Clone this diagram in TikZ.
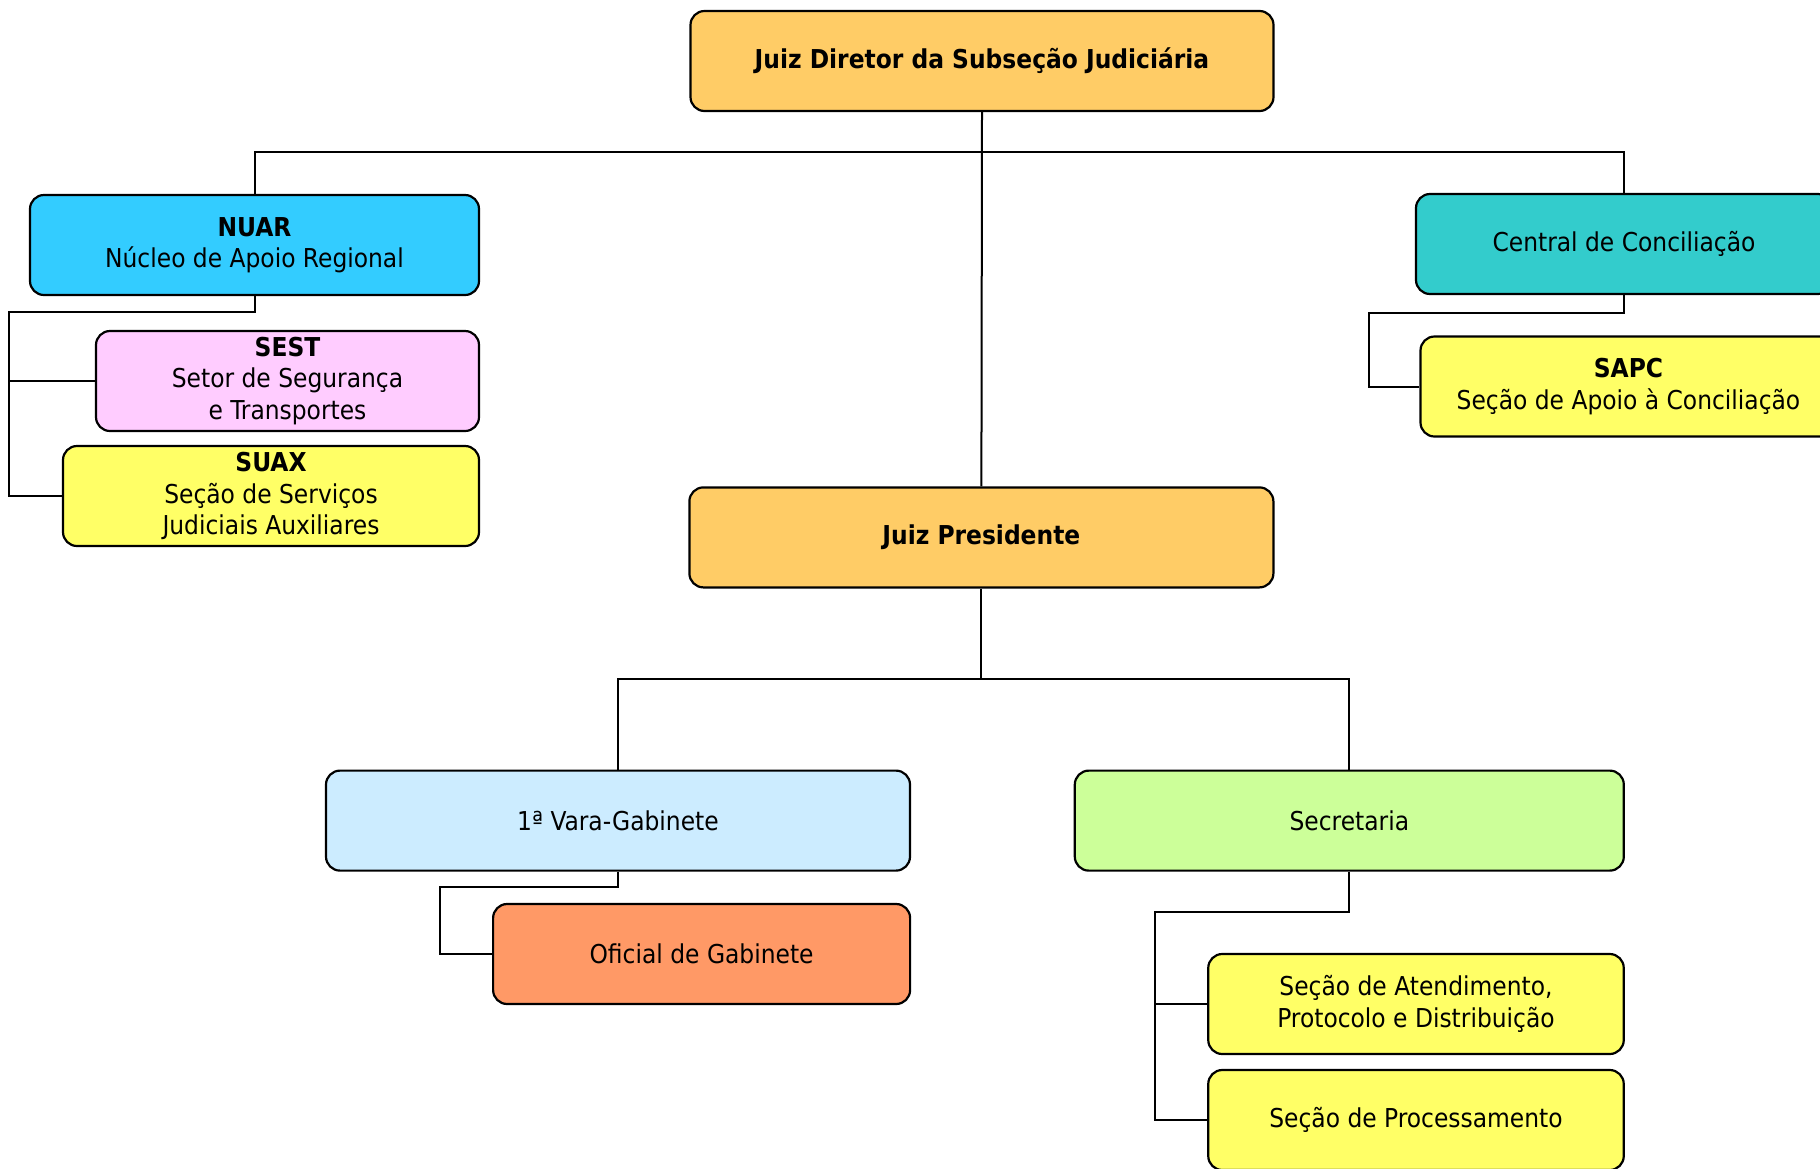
\documentclass[tikz,border=0pt]{standalone}
\usepackage{fontspec}
\setmainfont{DejaVu Sans Condensed}
\definecolor{laranja}{HTML}{FFCC66}
\definecolor{azul}{HTML}{33CCFF}
\definecolor{turquesa}{HTML}{33CCCC}
\definecolor{rosa}{HTML}{FFCCFF}
\definecolor{amarelo}{HTML}{FFFF66}
\definecolor{celeste}{HTML}{CCECFF}
\definecolor{verde}{HTML}{CCFF99}
\definecolor{salmao}{HTML}{FF9966}
\begin{document}
\begin{tikzpicture}[x=0.5pt,y=-0.5pt,
  caixa/.style={draw,line width=1.1pt,rounded corners=7pt,minimum height=50pt,
    align=center,inner sep=2pt,font=\fontsize{13}{15.7}\selectfont},
  liga/.style={draw,line width=1pt}]
  \useasboundingbox (0,0) rectangle (1820,1168);
  % nivel superior
  \node[caixa,fill=laranja,minimum width=291.5pt] (dir) at (982,61) {\bfseries Juiz Diretor da Subseção Judiciária};
  \node[caixa,fill=azul,minimum width=224.5pt] (nuar) at (254.5,245) {{\bfseries NUAR}\\Núcleo de Apoio Regional};
  \node[caixa,fill=turquesa,minimum width=208pt] (conc) at (1624,244) {Central de Conciliação};
  \node[caixa,fill=rosa,minimum width=191.5pt] (sest) at (287.5,381) {{\bfseries SEST}\\Setor de Segurança\\e Transportes};
  \node[caixa,fill=amarelo,minimum width=208pt] (suax) at (271,496) {{\bfseries SUAX}\\Seção de Serviços\\Judiciais Auxiliares};
  \node[caixa,fill=amarelo,minimum width=208pt] (sapc) at (1628.5,386.5) {{\bfseries SAPC}\\Seção de Apoio à Conciliação};
  % vara
  \node[caixa,fill=laranja,minimum width=292pt] (pres) at (981.4,537.4) {\bfseries Juiz Presidente};
  \node[caixa,fill=celeste,minimum width=292pt] (vara) at (618,820.6) {1ª Vara-Gabinete};
  \node[caixa,fill=verde,minimum width=274.5pt] (secr) at (1349.3,820.6) {Secretaria};
  \node[caixa,fill=salmao,minimum width=208.5pt] (ofic) at (701.6,954) {Oficial de Gabinete};
  \node[caixa,fill=amarelo,minimum width=207.75pt] (atend) at (1416,1004) {Seção de Atendimento,\\Protocolo e Distribuição};
  \node[caixa,fill=amarelo,minimum width=207.75pt] (proc) at (1416,1120) {Seção de Processamento};
  % ligacoes
  \coordinate (topbus) at (982,152);
  \coordinate (nuarbus) at (9,312);
  \coordinate (concbus) at (1368.5,313);
  \coordinate (presbus) at (981.4,679);
  \coordinate (varabus) at (440,887);
  \coordinate (secrbus) at (1155,912);
  \draw[liga] (dir.south) -- (pres.north);
  \draw[liga] (nuar.north) |- (topbus) -| (conc.north);
  \draw[liga] (nuar.south) |- (nuarbus) |- (sest.west);
  \draw[liga] (nuarbus) |- (suax.west);
  \draw[liga] (conc.south) |- (concbus) |- (sapc.west);
  \draw[liga] (pres.south) -- (presbus);
  \draw[liga] (vara.north) |- (presbus) -| (secr.north);
  \draw[liga] (vara.south) |- (varabus) |- (ofic.west);
  \draw[liga] (secr.south) |- (secrbus) |- (atend.west);
  \draw[liga] (secrbus) |- (proc.west);
\end{tikzpicture}
\end{document}
